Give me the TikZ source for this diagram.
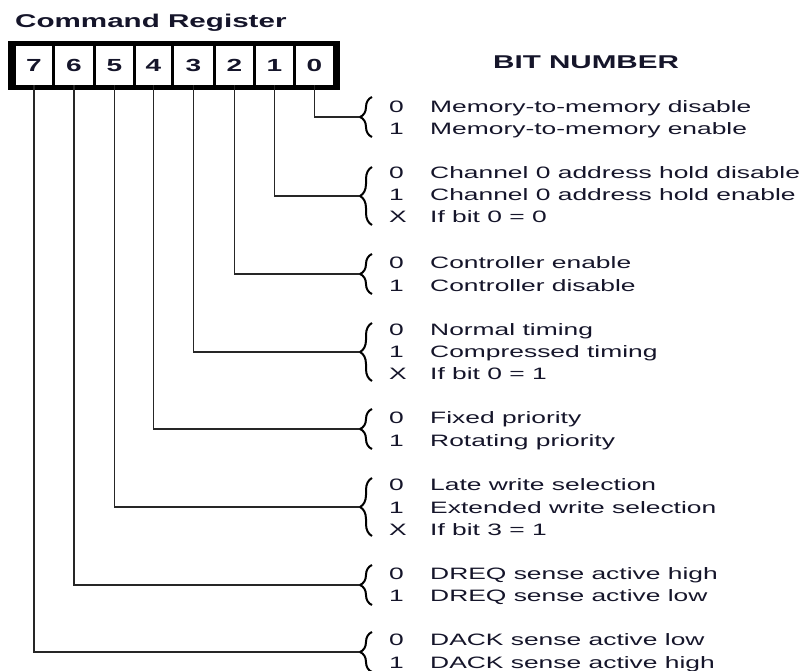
\documentclass[tikz,border=0pt]{standalone}
\usepackage{fontspec}
\newfontfamily\wf[FakeStretch=1.6]{Liberation Sans}
\usetikzlibrary{decorations.pathreplacing}
\definecolor{ink}{HTML}{15152A}
\tikzset{
  cell/.style={fill=white, inner sep=0pt, minimum width=#1, minimum height=39pt, font=\fontsize{17.5}{18}\wf\bfseries, text=ink},
  conn/.style={draw=black!85, line width=1.2pt},
  brc/.style={draw=black, line width=2pt, decorate, decoration={brace, amplitude=12pt}},
  val/.style={anchor=base west, inner sep=0pt, font=\fontsize{16.5}{18}\wf, text=ink},
  head/.style={anchor=base west, inner sep=0pt, font=\fontsize{18.5}{20}\wf\bfseries, text=ink}
}
\begin{document}
\begin{tikzpicture}[x=1pt,y=-1pt]
\useasboundingbox (0,0) rectangle (806,671);
\node[head] (title) at (15,27.5) {Command Register};
\node[head] (bitnum) at (493,69) {BIT NUMBER};
\fill[black] (8,41) rectangle (340,90);
\foreach \b/\l/\r in {7/16/52,6/55/93,5/96/133,4/136/171,3/174/213,2/216/253,1/256/293,0/296/333}{
  \pgfmathsetmacro{\w}{\r-\l}
  \node[cell=\w pt] (c\b) at ({(\l+\r)/2},65.5) {\b};
}
% brace tips
\foreach \g/\ty/\h in {0/117/20,1/196/29,2/274/20,3/352/29,4/429/20,5/507/29,6/585/20,7/652/20}{
  \coordinate (t\g) at (359,\ty);
  \draw[brc] (372,\ty+\h) -- (372,\ty-\h);
}
\foreach \g in {0,...,7}{
  \draw[conn] (c\g.south) |- (t\g);
}
% value rows
\foreach \n/\y/\d/\txt in {
  a/107/0/Memory-to-memory disable,
  b/129/1/Memory-to-memory enable,
  c/173/0/Channel 0 address hold disable,
  d/195/1/Channel 0 address hold enable,
  e/217/X/If bit 0 = 0,
  f/263/0/Controller enable,
  g/285/1/Controller disable,
  h/329/0/Normal timing,
  i/351/1/Compressed timing,
  j/373/X/If bit 0 = 1,
  k/417/0/Fixed priority,
  l/440/1/Rotating priority,
  m/484/0/Late write selection,
  n/507/1/Extended write selection,
  o/529/X/If bit 3 = 1,
  p/573/0/DREQ sense active high,
  q/595/1/DREQ sense active low,
  r/639/0/DACK sense active low,
  s/662/1/DACK sense active high}{
  \node[val] (v\n) at (389,\y+6) {\d};
  \node[val] (d\n) at (430,\y+6) {\txt};
}
\end{tikzpicture}
\end{document}
